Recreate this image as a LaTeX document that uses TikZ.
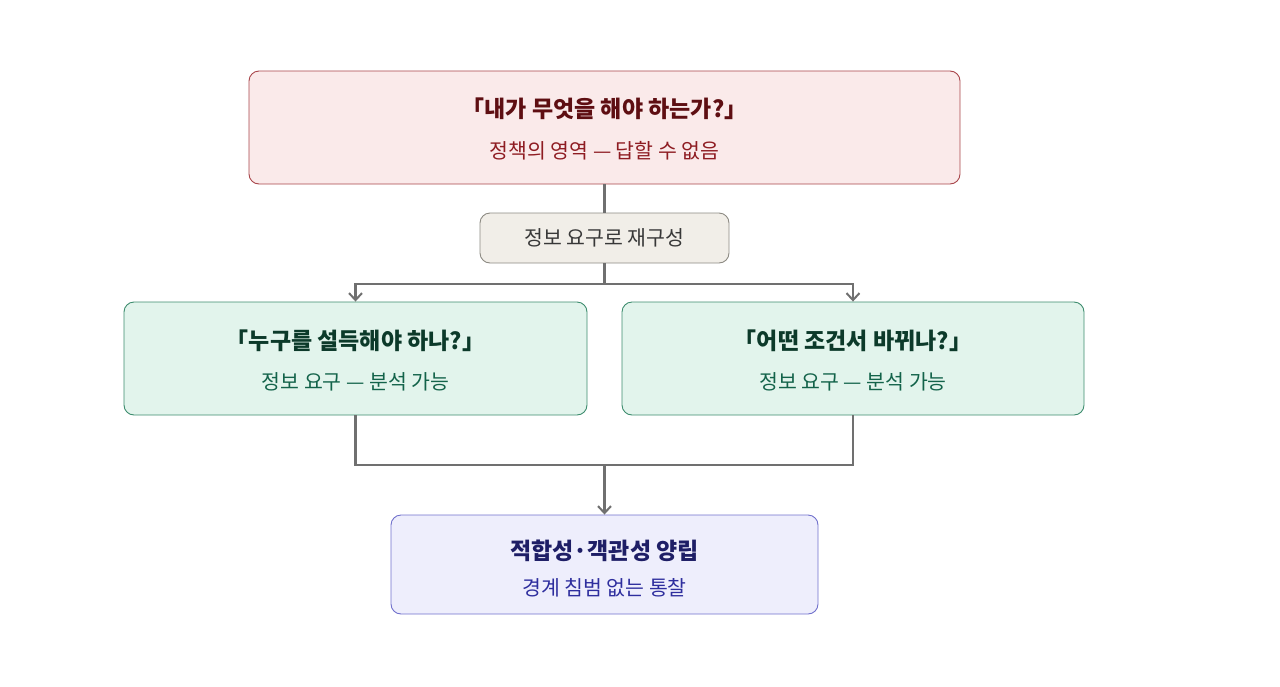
\documentclass[tikz,border=0pt]{standalone}
\usepackage{fontspec}
\setmainfont{Noto Sans CJK KR}
\usetikzlibrary{arrows.meta}
\definecolor{rfill}{HTML}{FAEAEA}\definecolor{rdraw}{HTML}{A8454A}
\definecolor{rtitle}{HTML}{5E0E12}\definecolor{rsub}{HTML}{8E1C22}
\definecolor{gfill}{HTML}{E2F4EC}\definecolor{gdraw}{HTML}{3D8C6E}
\definecolor{gtitle}{HTML}{0C3A2A}\definecolor{gsub}{HTML}{13634A}
\definecolor{bfill}{HTML}{EEEEFC}\definecolor{bdraw}{HTML}{7070CC}
\definecolor{btitle}{HTML}{1E1E66}\definecolor{bsub}{HTML}{2E2E9E}
\definecolor{mfill}{HTML}{F1EEE8}\definecolor{mdraw}{HTML}{8C8A82}
\definecolor{lnk}{HTML}{707070}
\tikzset{
  box/.style={draw, rounded corners=10pt, line width=0.9pt, inner sep=0pt},
  ttl/.style={font=\fontsize{23}{26}\selectfont\bfseries},
  sub/.style={font=\fontsize{20.5}{23}\selectfont},
  link/.style={draw=lnk, line width=2.4pt},
  arr/.style={link, -{Straight Barb[length=7pt,width=13pt,line width=2pt]}}
}
\begin{document}
\begin{tikzpicture}[x=1pt,y=-1pt]
\useasboundingbox (0,0) rectangle (1280,686);
\node[box, fill=rfill, draw=rdraw, minimum width=711pt, minimum height=113pt] (top) at (604.5,127.5) {};
\node[ttl, text=rtitle] (topt) at (604.5,109) {「내가 무엇을 해야 하는가?」};
\node[sub, text=rsub] (tops) at (604.5,151) {정책의 영역 — 답할 수 없음};
\node[box, fill=mfill, draw=mdraw, minimum width=249pt, minimum height=50pt] (mid) at (604.5,238) {};
\node[font=\fontsize{20.5}{23}\selectfont, text=black!78] (midt) at (604.5,238) {정보 요구로 재구성};
\node[box, fill=gfill, draw=gdraw, minimum width=463pt, minimum height=113pt] (L) at (355.5,358.5) {};
\node[ttl, text=gtitle] (Lt) at (355.5,341) {「누구를 설득해야 하나?」};
\node[sub, text=gsub] (Ls) at (355.5,382) {정보 요구 — 분석 가능};
\node[box, fill=gfill, draw=gdraw, minimum width=462pt, minimum height=113pt] (R) at (853,358.5) {};
\node[ttl, text=gtitle] (Rt) at (853,341) {「어떤 조건서 바뀌나?」};
\node[sub, text=gsub] (Rs) at (853,382) {정보 요구 — 분석 가능};
\node[box, fill=bfill, draw=bdraw, minimum width=427pt, minimum height=99pt] (B) at (604.5,564.5) {};
\node[ttl, text=btitle] (Bt) at (604.5,551) {적합성·객관성 양립};
\node[sub, text=bsub] (Bs) at (604.5,588) {경계 침범 없는 통찰};
\coordinate (j1) at (604.5,284);
\coordinate (j2) at (604.5,465);
\draw[link] (top.south) -- (mid.north);
\draw[link] (mid.south) -- (j1);
\draw[arr] (j1) -| (L.north);
\draw[arr] (j1) -| (R.north);
\draw[link] (L.south) |- (j2);
\draw[link] (R.south) |- (j2);
\draw[arr] (j2) -- (B.north);
\end{tikzpicture}
\end{document}
